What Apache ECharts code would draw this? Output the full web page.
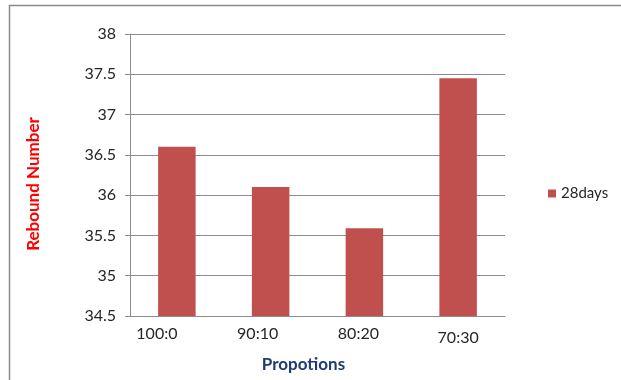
<!DOCTYPE html>
<html>
<head>
<meta charset="utf-8">
<script src="https://cdn.jsdelivr.net/npm/echarts@6/dist/echarts.min.js"></script>
<style>
html,body{margin:0;padding:0;background:#fff;}
#chart{width:621px;height:380px;}
</style>
</head>
<body>
<div id="chart"></div>
<script>
const categories = ['100:0', '90:10', '80:20', '70:30'];
const values28days = [36.6, 36.1, 35.59, 37.45];
const yTicks = [34.5, 35, 35.5, 36, 36.5, 37, 37.5, 38];
const seriesName = '28days';

const chart = echarts.init(document.getElementById('chart'), null, {renderer: 'canvas'});
const font = 'Lato, "Open Sans", sans-serif';
// label styling (shifts mimic the hand-placed labels in the original)
const labelRich = {
  l0: {fontFamily: font, fontSize: 16, color: '#262626', padding: [0, 40, 0, 0]},
  l1: {fontFamily: font, fontSize: 16, color: '#262626', padding: [0, 26, 0, 0]},
  l2: {fontFamily: font, fontSize: 16, color: '#262626', padding: [0, 12, 0, 0]},
  l3: {fontFamily: font, fontSize: 16, color: '#262626', padding: [4, 0, 0, 0]}
};
chart.setOption({
  animation: false,
  backgroundColor: '#ffffff',
  graphic: [{
    type: 'rect',
    shape: {x: 9.5, y: 5.5, width: 700, height: 500},
    style: {fill: 'none', stroke: '#8a8a8a', lineWidth: 1.5},
    silent: true
  }],
  grid: {left: 130, right: 116, top: 34, bottom: 64},
  legend: {
    data: [seriesName],
    left: 548, top: 186,
    padding: 0,
    itemWidth: 8, itemHeight: 8, itemGap: 4,
    icon: 'rect',
    textStyle: {fontFamily: font, fontSize: 15, color: '#262626'}
  },
  xAxis: {
    type: 'category',
    data: categories,
    name: 'Propotions',
    nameLocation: 'middle',
    nameGap: 40,
    nameTextStyle: {fontFamily: font, fontSize: 17, fontWeight: 'bold', color: '#1F3A75', padding: [0, 28, 0, 0]},
    axisLine: {lineStyle: {color: '#8c8c8c', width: 1}},
    axisTick: {show: false},
    axisLabel: {
      fontFamily: font, fontSize: 16, color: '#262626', margin: 10,
      formatter: function (v, i) { return '{l' + i + '|' + v + '}'; },
      rich: labelRich
    }
  },
  yAxis: {
    type: 'value',
    min: yTicks[0],
    max: yTicks[yTicks.length - 1],
    interval: 0.5,
    name: 'Rebound Number',
    nameLocation: 'middle',
    nameGap: 88,
    nameTextStyle: {fontFamily: font, fontSize: 17, fontWeight: 'bold', color: '#FF0000', padding: [0, 18, 0, 0]},
    axisLine: {show: true, lineStyle: {color: '#8c8c8c', width: 1}},
    axisTick: {show: true, length: 5, lineStyle: {color: '#8c8c8c'}},
    axisLabel: {fontFamily: font, fontSize: 16, color: '#262626', margin: 14},
    splitLine: {lineStyle: {color: '#8c8c8c', width: 1}}
  },
  series: [{
    name: seriesName,
    type: 'bar',
    data: values28days,
    barWidth: '40%',
    itemStyle: {color: '#C0504D'}
  }]
});
</script>
</body>
</html>
